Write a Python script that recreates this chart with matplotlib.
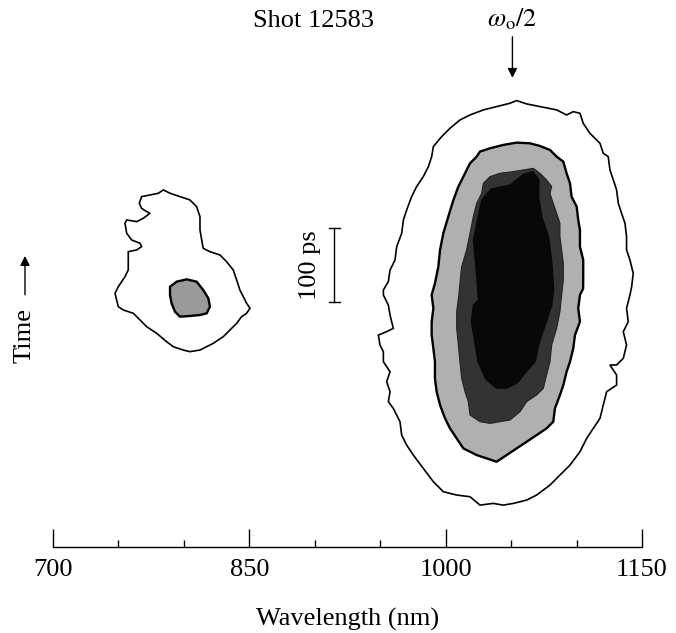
import matplotlib
matplotlib.use("Agg")
import matplotlib.pyplot as plt

# =========================
# DATA (wavelength in nm, time in ps)
# =========================
TITLE = "Shot 12583"
MAJOR_TICKS = [700, 850, 1000, 1150]
MINOR_TICKS = [750, 800, 900, 950, 1050, 1100]
XLIM = (700, 1150)
YLIM = (-331, 408)

OMEGA_HALF_NM = 1051
SCALE_BAR_NM = 915
SCALE_BAR_PS = [0, 100]

# big feature near w0/2 : outermost contour
big_outer_nm = [952.4, 956.2, 957.5, 961.3, 962.6, 966.4, 967.7, 970.2, 974.0, 977.8,
                982.9, 986.8, 989.3, 990.6, 996.9, 1003.3, 1011.0, 1018.6, 1028.8, 1039.0,
                1049.1, 1054.2, 1061.9, 1074.6, 1084.8, 1092.4, 1097.5, 1102.6, 1105.1, 1110.2,
                1117.9, 1120.4, 1124.2, 1125.5, 1128.1, 1130.6, 1131.9, 1134.4, 1137.0, 1138.2,
                1138.2, 1140.8, 1143.3, 1142.1, 1140.8, 1138.2, 1139.5, 1135.7, 1138.2, 1135.7,
                1130.6, 1125.5, 1130.6, 1130.6, 1123.0, 1120.4, 1117.9, 1112.8, 1107.7, 1102.6,
                1095.0, 1087.3, 1079.7, 1069.5, 1061.9, 1051.7, 1044.0, 1036.4, 1026.2, 1018.6,
                1008.4, 998.2, 990.6, 982.9, 975.3, 970.2, 966.4, 965.1, 960.0, 956.2,
                957.5, 954.9, 957.5, 952.4, 952.4, 949.8, 948.6, 954.9, 960.0, 957.5,
                956.2, 952.4]
big_outer_ps = [16.2, 27.5, 43.2, 56.7, 74.8, 92.8, 110.8, 124.3, 142.3, 155.9,
                169.4, 182.9, 196.4, 209.9, 223.4, 234.7, 246.0, 252.7, 259.5, 264.0,
                268.5, 272.1, 267.6, 263.1, 259.5, 252.7, 257.2, 254.9, 241.4, 227.9,
                214.4, 200.9, 196.4, 178.4, 164.9, 151.3, 133.3, 119.8, 106.3, 88.3,
                70.3, 56.7, 38.7, 20.7, 9.5, -8.6, -26.6, -40.1, -58.1, -76.1,
                -85.1, -85.1, -98.7, -112.2, -121.2, -139.2, -157.2, -170.7, -184.3, -202.3,
                -220.3, -233.8, -247.3, -260.8, -267.6, -272.1, -274.4, -272.1, -274.4, -263.1,
                -260.8, -256.3, -242.8, -224.8, -206.8, -193.3, -179.8, -161.7, -143.7, -134.7,
                -121.2, -107.7, -94.2, -80.6, -67.1, -58.1, -44.6, -40.1, -35.6, -17.6,
                -4.1, 9.5]

# light grey contour
big_mid_nm = [991.8, 994.4, 995.7, 998.2, 1002.0, 1005.9, 1009.7, 1014.8, 1018.6,
              1023.7, 1026.2, 1033.9, 1044.0, 1054.2, 1064.4, 1072.0, 1079.7, 1084.8, 1089.9,
              1092.4, 1095.0, 1096.2, 1100.1, 1101.3, 1102.6, 1102.6, 1105.1, 1105.1, 1105.0,
              1102.6, 1101.3, 1102.6, 1098.8, 1097.5, 1095.0, 1092.4, 1089.9, 1087.3, 1083.5,
              1082.2, 1077.1, 1069.5, 1061.9, 1054.2, 1046.6, 1038.9, 1031.3, 1023.7, 1013.5,
              1008.4, 1003.3, 999.5, 995.7, 993.1, 991.8, 991.8, 990.6, 989.3, 989.3,
              990.6, 989.3]
big_mid_ps = [25.2, 47.7, 70.3, 92.8, 115.3, 137.8, 155.9, 173.9, 187.4,
              196.4, 203.2, 207.7, 212.2, 215.3, 214.4, 210.8, 205.4, 196.4, 189.6,
              173.9, 160.4, 142.3, 128.8, 110.8, 97.3, 74.8, 56.7, 34.2, 18.0,
              9.5, -8.6, -26.6, -44.6, -62.6, -80.6, -94.2, -112.2, -125.7, -143.7,
              -161.7, -170.7, -179.8, -188.8, -197.8, -206.8, -215.8, -211.3, -206.8, -197.8,
              -184.3, -170.7, -157.2, -139.2, -121.2, -103.2, -80.6, -62.6, -44.6, -26.6,
              -8.6, 9.5]

# dark grey contour
big_dark_nm = [1010.9, 1012.2, 1016.0, 1018.6, 1021.1, 1023.7, 1027.5, 1028.8, 1033.9,
               1041.5, 1051.7, 1059.3, 1067.0, 1072.0, 1077.1, 1081.0, 1079.7, 1082.2, 1084.8,
               1087.3, 1087.3, 1088.6, 1089.9, 1089.9, 1088.6, 1087.3, 1084.8, 1081.0, 1079.7,
               1077.1, 1074.6, 1069.5, 1061.9, 1056.8, 1049.1, 1041.5, 1033.9, 1026.2, 1018.6,
               1017.3, 1014.8, 1012.2, 1010.9, 1009.7, 1008.4, 1008.4, 1010.0]
big_dark_ps = [25.2, 47.7, 70.3, 92.8, 115.3, 133.3, 146.8, 160.4, 169.4,
               173.9, 176.1, 178.4, 180.6, 173.9, 164.9, 155.9, 146.8, 133.3, 119.8,
               106.3, 88.3, 70.3, 52.2, 29.7, 9.5, -13.1, -35.6, -58.1, -80.6,
               -98.7, -116.7, -125.7, -134.7, -148.2, -159.5, -161.7, -164.0, -161.7, -152.7,
               -134.7, -121.2, -103.2, -80.6, -58.1, -35.6, -13.1, 8.0]

# black core
big_core_nm = [1024.5, 1023.2, 1021.9, 1020.7, 1023.2, 1027.0, 1034.4, 1049.1, 1059.3, 1067.0,
               1071.8, 1071.5, 1074.0, 1079.1, 1081.7, 1083.0, 1081.7, 1076.6, 1071.5, 1069.0,
               1061.3, 1055.2, 1046.6, 1038.9, 1030.3, 1024.2, 1021.7, 1019.1, 1020.7]
big_core_ps = [2.7, 34.2, 61.3, 83.8, 106.3, 137.8, 153.3, 158.9, 173.6, 177.1,
               164.9, 142.3, 115.3, 88.3, 52.2, 16.2, -4.1, -31.1, -58.1, -80.6,
               -96.2, -109.7, -117.4, -117.4, -105.2, -80.6, -53.6, -26.6, -4.1]

# small feature near 800 nm
small_outer_nm = [767.7, 774.1, 780.5, 784.3, 789.4, 797.0, 804.6, 809.7, 812.3, 812.3,
                  813.6, 814.8, 819.9, 827.6, 832.6, 837.7, 840.3, 842.8, 845.4, 847.9,
                  850.5, 847.9, 844.1, 840.3, 835.2, 830.1, 822.5, 812.3, 804.6, 799.5,
                  791.9, 786.8, 779.2, 771.5, 766.5, 761.4, 753.7, 749.9, 748.6, 747.4,
                  749.9, 755.0, 757.5, 757.5, 757.5, 763.9, 767.7, 766.5, 760.1, 756.3,
                  755.0, 756.3, 763.9, 769.0, 774.1, 771.5, 767.7, 765.9]
small_outer_ps = [142.4, 144.6, 146.9, 151.4, 146.9, 142.4, 137.9, 128.9, 115.3, 97.3,
                  83.8, 72.5, 68.0, 63.5, 54.5, 43.3, 29.7, 16.2, 7.2, -1.8,
                  -8.5, -15.3, -19.8, -28.8, -37.8, -46.8, -55.8, -64.9, -67.1, -64.9,
                  -60.4, -53.6, -42.3, -33.3, -24.3, -15.3, -10.8, -6.3, 2.7, 11.7,
                  20.7, 34.2, 43.3, 56.8, 68.0, 70.3, 74.8, 79.3, 83.8, 92.8,
                  106.3, 110.8, 108.6, 113.1, 119.9, 122.1, 126.6, 133.4]

small_inner_nm = [789.4, 794.5, 802.1, 809.7, 814.8, 818.7, 819.9, 817.4, 812.3, 804.6,
                  797.0, 793.2, 790.6, 789.4]
small_inner_ps = [20.7, 27.5, 30.6, 27.5, 16.2, 5.0, -6.3, -15.3, -17.6, -18.9,
                  -19.8, -13.1, -1.8, 9.4]

# =========================
# STYLE
# =========================
plt.rcParams["font.family"] = ["Liberation Serif", "DejaVu Serif"]
plt.rcParams["mathtext.fontset"] = "stix"
FS = 19

fig = plt.figure(figsize=(6.76, 6.33), dpi=100)
ax = fig.add_axes([53 / 676, 86 / 633, 589 / 676, 547 / 633])
ax.set_xlim(*XLIM)
ax.set_ylim(*YLIM)

# =========================
# CONTOURS
# =========================
ax.fill(big_outer_nm, big_outer_ps, facecolor="white", edgecolor="black", lw=1.2)
ax.fill(big_mid_nm, big_mid_ps, facecolor="#b0b0b0", edgecolor="black", lw=1.7)
ax.fill(big_dark_nm, big_dark_ps, facecolor="#333333", edgecolor="#222222", lw=0.8)
ax.fill(big_core_nm, big_core_ps, facecolor="#080808", edgecolor="none")

ax.fill(small_outer_nm, small_outer_ps, facecolor="white", edgecolor="black", lw=1.2)
ax.fill(small_inner_nm, small_inner_ps, facecolor="#9a9a9a", edgecolor="black", lw=1.7)

# =========================
# ANNOTATIONS
# =========================
# 100 ps scale bar
ax.plot([SCALE_BAR_NM, SCALE_BAR_NM], SCALE_BAR_PS, color="black", lw=1.0)
for t in SCALE_BAR_PS:
    ax.plot([SCALE_BAR_NM - 4.5, SCALE_BAR_NM + 4.5], [t, t], color="black", lw=1.0)
ax.text(SCALE_BAR_NM - 19, sum(SCALE_BAR_PS) / 2, "100 ps", rotation=90,
        ha="center", va="center", fontsize=FS)

# time arrow + label
ax.annotate("", xy=(678.6, 66), xytext=(678.6, 6),
            arrowprops=dict(arrowstyle="-|>", color="black", lw=1.0,
                            mutation_scale=14), annotation_clip=False)
ax.text(678.6, -45, "Time", rotation=90, ha="center", va="center",
        fontsize=FS, clip_on=False)

# title and w0/2 marker
ax.text(899, 380, TITLE, ha="center", va="center", fontsize=FS, clip_on=False)
ax.text(OMEGA_HALF_NM, 382, r"$\omega_{\rm o}/2$", ha="center", va="center",
        fontsize=FS, clip_on=False)
ax.annotate("", xy=(OMEGA_HALF_NM, 299), xytext=(OMEGA_HALF_NM, 362),
            arrowprops=dict(arrowstyle="-|>", color="black", lw=1.0,
                            mutation_scale=14), annotation_clip=False)

# =========================
# AXES
# =========================
for side in ["left", "top", "right"]:
    ax.spines[side].set_visible(False)
ax.spines["bottom"].set_linewidth(1.0)
ax.set_yticks([])
ax.set_xticks(MAJOR_TICKS)
ax.set_xticks(MINOR_TICKS, minor=True)
ax.tick_params(axis="x", which="major", direction="in", length=13, width=1.0,
               labelsize=FS, pad=9)
ax.tick_params(axis="x", which="minor", direction="in", length=5, width=1.0)
ax.set_xlabel("Wavelength (nm)", fontsize=FS, labelpad=19)

fig.savefig("out.png", dpi=100)
